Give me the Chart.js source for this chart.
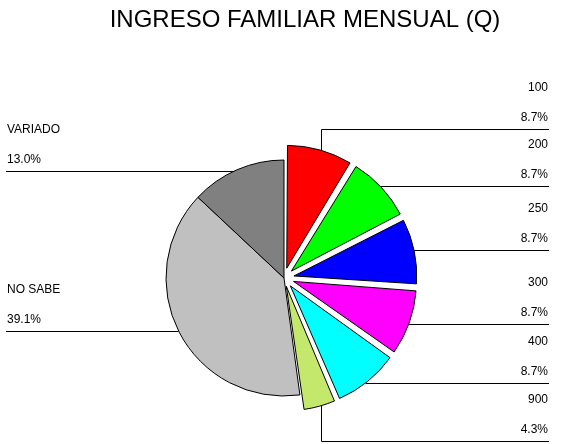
<!DOCTYPE html>
<html lang="es">
<head>
    <meta charset="UTF-8">
    <title>Ingreso familiar mensual</title>
    <script src="https://cdn.jsdelivr.net/npm/chart.js"></script>
    <style>
        body { margin: 0; background: #fff; }
    </style>
</head>
<body>
    <canvas id="myChart" width="561" height="444"></canvas>
    <script>
        // Datos
        const title = 'INGRESO FAMILIAR MENSUAL (Q)';
        const categories = ['100', '200', '250', '300', '400', '900', 'NO SABE', 'VARIADO'];
        const percents = [8.7, 8.7, 8.7, 8.7, 8.7, 4.3, 39.1, 13.0];

        // estilo
        const colors = ['#ff0000', '#00ff00', '#0000ff', '#ff00ff', '#00ffff', '#c4e86c', '#c0c0c0', '#808080'];
        const explode = [15, 15, 15, 15, 15, 15, 0, 0];
        const FONT = '"Liberation Sans", Arial, sans-serif';

        // chart.js shifts an arc by offset/4 * (2 - sin(circumference)),
        // so turn the wanted pixel shift into the option value
        const total = percents.reduce((a, b) => a + b, 0);
        const shiftFactor = percents.map(v => {
            const circ = v / total * Math.PI * 2;
            return (2 - Math.sin(Math.min(Math.PI, circ))) / 4;
        });
        const offsets = explode.map((e, i) => e / shiftFactor[i]);

        // y of each leader line, side, and optional vertical drop x
        const labelLayout = [
            { y: 129, side: 'right', dropX: 321 },
            { y: 186, side: 'right' },
            { y: 250, side: 'right' },
            { y: 324, side: 'right' },
            { y: 383, side: 'right' },
            { y: 441, side: 'right', dropX: 321 },
            { y: 331, side: 'left' },
            { y: 171, side: 'left' }
        ];
        const RIGHT_X = 549;
        const LEFT_X = 6;

        const labelsPlugin = {
            id: 'outLabels',
            afterDatasetsDraw(chart) {
                const ctx = chart.ctx;
                ctx.save();
                ctx.fillStyle = '#000';
                ctx.font = '24px ' + FONT;
                ctx.textAlign = 'center';
                ctx.textBaseline = 'middle';
                ctx.fillText(title, 305, 20);

                ctx.font = '12px ' + FONT;
                ctx.strokeStyle = '#000';
                ctx.lineWidth = 1;
                const arcs = chart.getDatasetMeta(0).data;
                arcs.forEach((arc, i) => {
                    const p = arc.getProps(['x', 'y', 'startAngle', 'endAngle', 'outerRadius'], true);
                    const mid = (p.startAngle + p.endAngle) / 2;
                    const off = explode[i];
                    const ox = p.x + Math.cos(mid) * off;
                    const oy = p.y + Math.sin(mid) * off;
                    const R = p.outerRadius;
                    const L = labelLayout[i];
                    const y = Math.round(L.y) + 0.5;

                    ctx.beginPath();
                    if (L.dropX) {
                        const dx = L.dropX - ox;
                        const dy = Math.sqrt(Math.max(R * R - dx * dx, 0));
                        const yEdge = L.y > oy ? oy + dy : oy - dy;
                        ctx.moveTo(L.dropX + 0.5, yEdge);
                        ctx.lineTo(L.dropX + 0.5, y);
                        ctx.lineTo(RIGHT_X, y);
                    } else {
                        const dy = L.y - oy;
                        const dx = Math.sqrt(Math.max(R * R - dy * dy, 0));
                        if (L.side === 'right') {
                            ctx.moveTo(ox + dx, y);
                            ctx.lineTo(RIGHT_X, y);
                        } else {
                            ctx.moveTo(LEFT_X, y);
                            ctx.lineTo(ox - dx, y);
                        }
                    }
                    ctx.stroke();

                    const pct = percents[i].toFixed(1) + '%';
                    if (L.side === 'right') {
                        ctx.textAlign = 'right';
                        ctx.fillText(categories[i], RIGHT_X - 1, L.y - 41);
                        ctx.fillText(pct, RIGHT_X - 1, L.y - 11);
                    } else {
                        ctx.textAlign = 'left';
                        ctx.fillText(categories[i], LEFT_X + 1, L.y - 41);
                        ctx.fillText(pct, LEFT_X + 1, L.y - 11);
                    }
                });
                ctx.restore();
            }
        };

        const ctx = document.getElementById('myChart').getContext('2d');
        const myChart = new Chart(ctx, {
            type: 'pie',
            data: {
                labels: categories,
                datasets: [{
                    data: percents,
                    backgroundColor: colors,
                    borderColor: '#000',
                    borderWidth: 1,
                    offset: offsets,
                    hoverOffset: 0
                }]
            },
            options: {
                responsive: false,
                animation: false,
                radius: 118,
                layout: {
                    padding: { left: 150, right: 143, top: 150, bottom: 38 }
                },
                plugins: {
                    legend: { display: false },
                    title: { display: false },
                    tooltip: { enabled: false }
                }
            },
            plugins: [labelsPlugin]
        });
    </script>
</body>
</html>
